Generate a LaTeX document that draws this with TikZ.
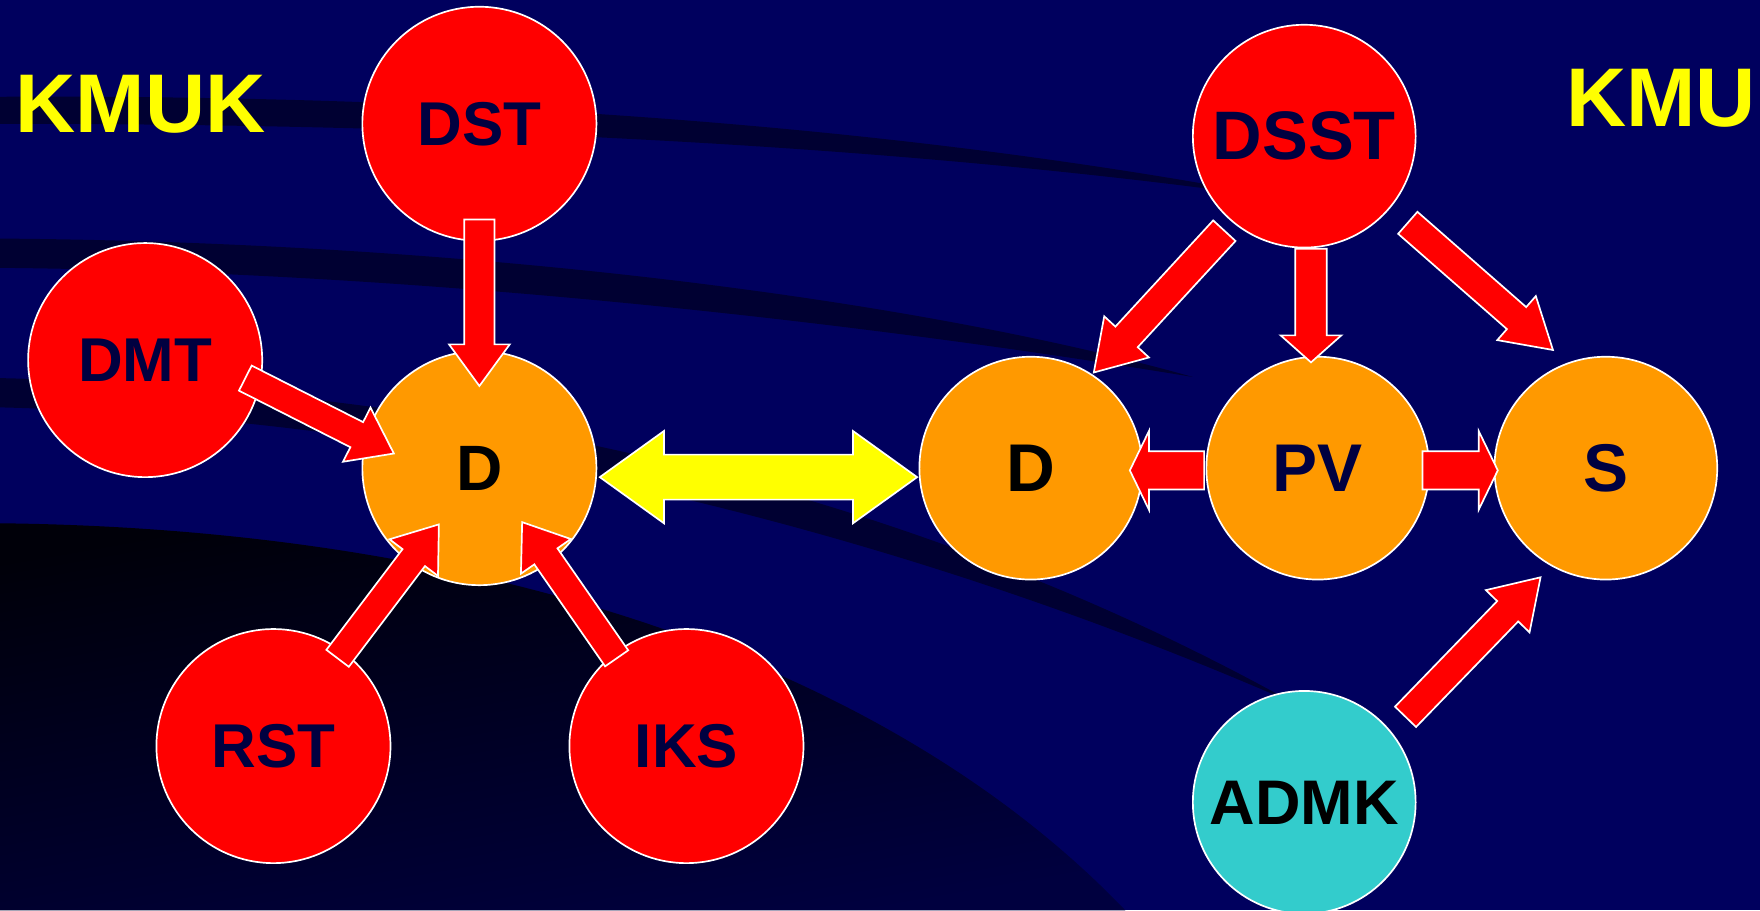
\documentclass[tikz,border=0pt]{standalone}
\usepackage{fontspec}
\setmainfont{Liberation Sans}
\usetikzlibrary{calc}
\definecolor{bgnavy}{RGB}{0,0,94}
\definecolor{stripecolor}{RGB}{0,0,50}
\definecolor{ballred}{RGB}{255,0,0}
\definecolor{ballorange}{RGB}{255,153,0}
\definecolor{ballcyan}{RGB}{51,204,204}
\definecolor{labelnavy}{RGB}{0,0,64}
\definecolor{titleyellow}{RGB}{255,255,0}

% block arrow: [style]{tail}{tip}{half shaft}{half head}{head length}
\newcommand{\blockarrow}[6][]{%
  \coordinate (ba-base) at ($(#3)!#6!(#2)$);
  \draw[blockarrow,#1] ($(#2)!#4!90:(#3)$) -- ($(ba-base)!#4!-90:(#2)$) -- ($(ba-base)!#5!-90:(#2)$) -- (#3)
    -- ($(ba-base)!#5!90:(#2)$) -- ($(ba-base)!#4!90:(#2)$) -- ($(#2)!#4!-90:(#3)$) -- cycle;
}
% double block arrow: [style]{tip a}{tip b}{half shaft}{half head}{head length}
\newcommand{\dblarrow}[6][]{%
  \coordinate (da-a) at ($(#2)!#6!(#3)$);
  \coordinate (da-b) at ($(#3)!#6!(#2)$);
  \draw[blockarrow,#1] (#2) -- ($(da-a)!#5!90:(#3)$) -- ($(da-a)!#4!90:(#3)$) -- ($(da-b)!#4!-90:(#2)$) -- ($(da-b)!#5!-90:(#2)$)
    -- (#3) -- ($(da-b)!#5!90:(#2)$) -- ($(da-b)!#4!90:(#2)$) -- ($(da-a)!#4!-90:(#3)$) -- ($(da-a)!#5!-90:(#3)$) -- cycle;
}

\begin{document}
\begin{tikzpicture}[x=1pt,y=-1pt,
    ball/.style={circle, draw=white, line width=1.5pt, minimum size=#1, inner sep=0pt, font=\bfseries, text=labelnavy},
    redball/.style={ball=208pt, fill=ballred},
    orangeball/.style={ball=198pt, fill=ballorange},
    cyanball/.style={ball=198pt, fill=ballcyan},
    blockarrow/.style={draw=white, line width=1.5pt, fill=ballred},
    title/.style={font=\fontsize{74}{80}\selectfont\bfseries, text=titleyellow},
    stripe/.style={fill=stripecolor}]
    \useasboundingbox (0,0) rectangle (1564,809);

    % draw background
    \fill[bgnavy] (0,0) rectangle (1564,809);
    \fill[stripe] (0,86) .. controls (400,84) and (800,110) .. (1150,178)
        .. controls (800,128) and (400,110) .. (0,110) -- cycle;
    \fill[stripe] (0,212) .. controls (400,215) and (800,262) .. (1060,335)
        .. controls (800,292) and (400,242) .. (0,238) -- cycle;
    \fill[stripe] (0,336) .. controls (400,345) and (800,430) .. (1150,625)
        .. controls (800,472) and (400,372) .. (0,362) -- cycle;
    \shade[top color=black!90!bgnavy, bottom color=stripecolor!70!bgnavy, shading angle=10]
        (0,465) .. controls (450,470) and (800,600) .. (1000,809) -- (0,809) -- cycle;

    % draw left cluster
    \node[redball, font=\fontsize{55}{60}\selectfont\bfseries] (dst) at (426,110) {DST};
    \node[redball, font=\fontsize{55}{60}\selectfont\bfseries] (dmt) at (129,320) {DMT};
    \node[orangeball, minimum size=208pt, font=\fontsize{57}{60}\selectfont\bfseries, text=black] (dl) at (426,416) {D};
    \node[redball, font=\fontsize{55}{60}\selectfont\bfseries] (rst) at (243,663) {RST};
    \node[redball, font=\fontsize{55}{60}\selectfont\bfseries] (iks) at (610,663) {IKS};
    \node[title] (kmuk) at (125,93) {KMUK};

    % draw right cluster
    \node[orangeball, font=\fontsize{60}{64}\selectfont\bfseries, text=black] (dr) at (916,416) {D};
    \node[orangeball, font=\fontsize{60}{64}\selectfont\bfseries] (pv) at (1171,416) {PV};
    \node[orangeball, font=\fontsize{60}{64}\selectfont\bfseries] (s) at (1427,416) {S};
    \node[redball, minimum size=198pt, font=\fontsize{61}{64}\selectfont\bfseries] (dsst) at (1159,121) {DSST};
    \node[cyanball, font=\fontsize{56}{60}\selectfont\bfseries, text=black] (admk) at (1159,713) {ADMK};
    \node[title] (kmu) at (1476,87) {KMU};

    % arrows into left D
    \coordinate (dst-out) at ($(dst)+(0,85)$);
    \coordinate (dl-top) at ($(dl)+(0,-73)$);
    \blockarrow{dst-out}{dl-top}{13.5pt}{27pt}{37pt}
    \coordinate (dmt-out) at ($(dmt)+(89,16)$);
    \coordinate (dl-left) at ($(dl)+(-76,-13)$);
    \blockarrow{dmt-out}{dl-left}{12.5pt}{27pt}{37pt}
    \coordinate (rst-out) at ($(rst)+(57,-78)$);
    \coordinate (dl-bl) at ($(dl)+(-36,50)$);
    \blockarrow{rst-out}{dl-bl}{12.5pt}{27pt}{37pt}
    \coordinate (iks-out) at ($(iks)+(-62,-78)$);
    \coordinate (dl-br) at ($(dl)+(38,48)$);
    \blockarrow{iks-out}{dl-br}{12.5pt}{27pt}{37pt}

    % link between the two D
    \coordinate (dl-east) at ($(dl)+(107,8)$);
    \coordinate (dr-west) at ($(dr)+(-101,8)$);
    \dblarrow[fill=titleyellow]{dl-east}{dr-west}{20pt}{41pt}{57pt}

    % arrows of right cluster
    \coordinate (dsst-sw) at ($(dsst)+(-71,84)$);
    \coordinate (dr-ne) at ($(dr)+(56,-85)$);
    \blockarrow{dsst-sw}{dr-ne}{13.5pt}{27pt}{43pt}
    \coordinate (dsst-out) at ($(dsst)+(6,100)$);
    \coordinate (pv-top) at ($(pv)+(-6,-94)$);
    \blockarrow{dsst-out}{pv-top}{14pt}{27pt}{24pt}
    \coordinate (dsst-se) at ($(dsst)+(92,77)$);
    \coordinate (s-nw) at ($(s)+(-47,-105)$);
    \blockarrow{dsst-se}{s-nw}{13pt}{26pt}{43pt}
    \coordinate (pv-west) at ($(pv)+(-101,2)$);
    \coordinate (dr-east) at ($(dr)+(88,2)$);
    \blockarrow{pv-west}{dr-east}{17pt}{35pt}{17pt}
    \coordinate (pv-east) at ($(pv)+(93,2)$);
    \coordinate (s-west) at ($(s)+(-96,2)$);
    \blockarrow{pv-east}{s-west}{17pt}{35pt}{17pt}
    \coordinate (admk-out) at ($(admk)+(90,-76)$);
    \coordinate (s-sw) at ($(s)+(-58,97)$);
    \blockarrow{admk-out}{s-sw}{13pt}{27pt}{42pt}
\end{tikzpicture}
\end{document}
